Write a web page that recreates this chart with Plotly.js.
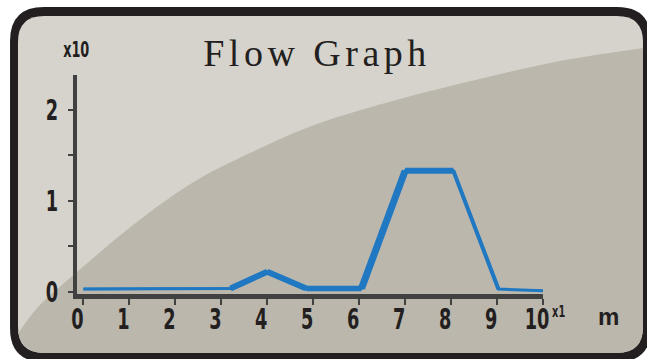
<!DOCTYPE html>
<html>
<head>
<meta charset="utf-8">
<script src="https://cdn.plot.ly/plotly-3.0.1.min.js"></script>
<style>html,body{margin:0;padding:0;background:#fff;}#chart{width:647px;height:359px;}</style>
</head>
<body>
<div id="chart"></div>
<script>
// ---- data ----
const flowX = [0, 3.2, 4, 4.85, 6.05, 7, 8.05, 9.03, 10];
const flowY = [0.03, 0.035, 0.22, 0.035, 0.035, 1.33, 1.33, 0.03, 0.01];
const xTicks = [0, 1, 2, 3, 4, 5, 6, 7, 8, 9, 10];
const xTickLabels = ['0', '1', '2', '3', '4', '5', '6', '7', '8', '9', '10'];
const yTicks = [0, 0.5, 1, 1.5, 2];
const yTickLabels = ['0', '', '1', '', '2'];
const titleText = 'Flow Graph';
const yScaleLabel = 'x10';
const xScaleLabel = 'x1';
const unitLabel = 'm';

// ---- styles ----
const W = 647, H = 359;
const segWidths = [2.5, 6, 6, 5.5, 7, 6, 4, 1.5];
const blue = '#1f78c1';
const axisCol = '#414141';
const ink = '#231f20';
const condensed = 'DejaVu Sans Condensed, DejaVu Sans, sans-serif';

function px(x) { return (x / W).toFixed(4); }
function py(y) { return (1 - y / H).toFixed(4); }
function pt(p) { return px(p[0]) + ' ' + py(p[1]); }
function rr(x0, y0, x1, y1, r) {
  return 'M ' + pt([x0 + r, y0]) + ' L ' + pt([x1 - r, y0]) + ' Q ' + pt([x1, y0]) + ' ' + pt([x1, y0 + r]) +
    ' L ' + pt([x1, y1 - r]) + ' Q ' + pt([x1, y1]) + ' ' + pt([x1 - r, y1]) +
    ' L ' + pt([x0 + r, y1]) + ' Q ' + pt([x0, y1]) + ' ' + pt([x0, y1 - r]) +
    ' L ' + pt([x0, y0 + r]) + ' Q ' + pt([x0, y0]) + ' ' + pt([x0 + r, y0]) + ' Z';
}
// smooth decorative curve (Catmull-Rom -> cubic bezier), pixel coords
const curve = [[19, 332], [40, 305], [77, 272], [133, 225], [192, 183], [250, 153], [317, 124], [400, 99], [484, 78], [560, 61], [643, 48]];
function smooth(pts) {
  let d = 'M ' + pt(pts[0]);
  for (let i = 0; i < pts.length - 1; i++) {
    const p0 = pts[Math.max(0, i - 1)], p1 = pts[i], p2 = pts[i + 1], p3 = pts[Math.min(pts.length - 1, i + 2)];
    const c1 = [p1[0] + (p2[0] - p0[0]) / 6, p1[1] + (p2[1] - p0[1]) / 6];
    const c2 = [p2[0] - (p3[0] - p1[0]) / 6, p2[1] - (p3[1] - p1[1]) / 6];
    d += ' C ' + pt(c1) + ' ' + pt(c2) + ' ' + pt(p2);
  }
  return d;
}
const darkPath = smooth(curve) +
  ' L ' + pt([643, 327]) + ' Q ' + pt([643, 353]) + ' ' + pt([617, 353]) +
  ' L ' + pt([44, 353]) + ' Q ' + pt([18, 353]) + ' ' + pt([18, 327]) + ' Z';

const traces = [{
  x: flowX, y: flowY, mode: 'lines', line: {color: blue, width: 3}, hoverinfo: 'skip', showlegend: false
}];
for (let i = 0; i < flowX.length - 1; i++) {
  traces.push({
    x: flowX.slice(i, i + 2), y: flowY.slice(i, i + 2), mode: 'lines',
    line: {color: blue, width: segWidths[i]}, hoverinfo: 'skip', showlegend: false
  });
}

const tickFont = {family: condensed, size: 29, color: ink, weight: 'bold'};

const layout = {
  width: W, height: H,
  margin: {l: 0, r: 0, t: 0, b: 0},
  paper_bgcolor: '#ffffff',
  plot_bgcolor: 'rgba(0,0,0,0)',
  showlegend: false,
  title: {text: titleText, x: 317 / W, xanchor: 'center', y: 1 - 53 / H, yanchor: 'middle',
    font: {family: 'Liberation Serif', size: 38, color: ink}},
  xaxis: {
    domain: [77 / W, 543 / W], range: [-0.14, 10],
    showgrid: false, zeroline: false, showline: true, linewidth: 5, linecolor: axisCol,
    ticks: 'outside', ticklen: 6, tickwidth: 2, tickcolor: axisCol,
    ticklabelstandoff: -11, ticklabelshift: -6,
    tickmode: 'array', tickvals: xTicks, ticktext: xTickLabels, tickfont: tickFont
  },
  yaxis: {
    domain: [1 - 294 / H, 1 - 75 / H], range: [-0.025, 2.385],
    showgrid: false, zeroline: false, showline: true, linewidth: 4, linecolor: axisCol,
    ticks: 'outside', ticklen: 5, tickwidth: 2, tickcolor: axisCol, ticklabelstandoff: 4,
    tickmode: 'array', tickvals: yTicks, ticktext: yTickLabels, tickfont: tickFont
  },
  shapes: [
    {type: 'path', xref: 'paper', yref: 'paper', layer: 'below', path: rr(10, 7, 651, 362, 34), fillcolor: ink, line: {width: 0}},
    {type: 'path', xref: 'paper', yref: 'paper', layer: 'below', path: rr(18, 16, 643, 353, 26), fillcolor: '#d6d3cc', line: {width: 0}},
    {type: 'path', xref: 'paper', yref: 'paper', layer: 'below', path: darkPath, fillcolor: '#bbb7ac', line: {width: 0}}
  ],
  annotations: [
    {text: yScaleLabel, xref: 'paper', yref: 'paper', x: 76 / W, y: 1 - 50 / H, xanchor: 'center', yanchor: 'middle', showarrow: false,
      font: {family: condensed, size: 21, color: ink, weight: 'bold'}},
    {text: xScaleLabel, xref: 'paper', yref: 'paper', x: 558 / W, y: 1 - 311 / H, xanchor: 'center', yanchor: 'middle', showarrow: false,
      font: {family: condensed, size: 16, color: ink, weight: 'bold'}},
    {text: unitLabel, xref: 'paper', yref: 'paper', x: 608 / W, y: 1 - 316 / H, xanchor: 'center', yanchor: 'middle', showarrow: false,
      font: {family: 'Liberation Sans', size: 24, color: ink, weight: 'bold'}}
  ]
};

function squeeze(el, s, mode) {
  const b = el.getBBox();
  const ox = mode === 'right' ? b.x + b.width : b.x + b.width / 2;
  const prev = el.getAttribute('transform') || '';
  el.setAttribute('transform', prev + ' translate(' + ox + ',0) scale(' + s + ',1) translate(' + (-ox) + ',0)');
}

Plotly.newPlot('chart', traces, layout, {staticPlot: true, displayModeBar: false}).then(function () {
  const t = document.querySelector('.gtitle');
  if (t) { t.style.letterSpacing = '4.5px'; }
  document.querySelectorAll('.xtick text').forEach(function (el) { squeeze(el, 0.68, 'center'); });
  document.querySelectorAll('.ytick text').forEach(function (el) { squeeze(el, 0.68, 'right'); });
  document.querySelectorAll('.annotation-text').forEach(function (el, i) { if (i < 2) squeeze(el, 0.68, 'center'); });
});
</script>
</body>
</html>
